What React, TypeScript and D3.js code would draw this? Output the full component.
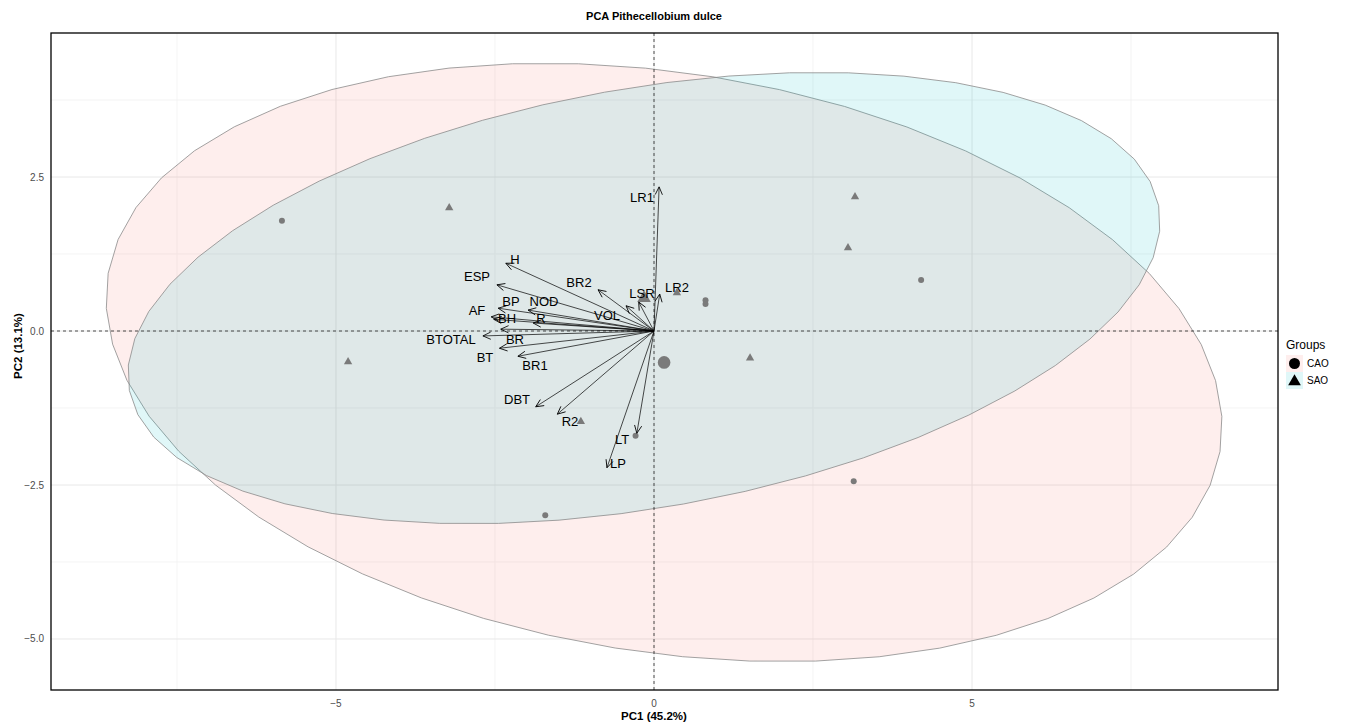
import React from "react";
import * as d3 from "d3";

// ---- data ----
const groups = ["CAO", "SAO"];
const groupFill = ["#F8766D", "#00BFC4"];

// individuals (PC1, PC2)
const caoX = [-5.85, 4.2, 0.81, 0.81, 3.14, -1.71, -0.29];
const caoY = [1.79, 0.83, 0.5, 0.44, -2.44, -2.99, -1.7];
const saoX = [-3.22, 3.16, 3.05, -4.81, 1.51, -1.15, 0.36];
const saoY = [2.0, 2.18, 1.35, -0.5, -0.44, -1.47, 0.62];

// concentration ellipses: semi-axes (data units), rotation (deg, data space)
const ellipseA = [8.86, 8.23];
const ellipseB = [4.7, 3.4];
const ellipseAngle = [-9.4, 10.5];

// variable loadings (arrow tips)
const varNames = ["H", "ESP", "BR2", "BP", "NOD", "AF", "BH", "R", "VOL", "LSR", "LR2", "LR1", "BTOTAL", "BR", "BT", "BR1", "DBT", "R2", "LT", "LP"];
const varX = [-2.33, -2.47, -0.88, -2.45, -1.98, -2.56, -2.52, -1.9, -0.44, -0.24, 0.09, 0.08, -2.69, -2.41, -2.43, -2.14, -1.86, -1.52, -0.27, -0.74];
const varY = [1.1, 0.75, 0.67, 0.37, 0.34, 0.23, 0.19, 0.13, 0.41, 0.47, 0.6, 2.34, -0.08, 0.03, -0.28, -0.41, -1.23, -1.35, -1.66, -2.22];
// repelled label positions
const labX = [-2.186, -2.783, -1.179, -2.248, -1.73, -2.783, -2.311, -1.777, -0.739, -0.189, 0.362, -0.189, -3.192, -2.186, -2.657, -1.871, -2.154, -1.321, -0.503, -0.566];
const labY = [1.153, 0.877, 0.795, 0.487, 0.471, 0.325, 0.195, 0.195, 0.244, 0.617, 0.714, 2.175, -0.13, -0.13, -0.422, -0.568, -1.104, -1.477, -1.769, -2.143];

const xMajor = [-5, 0, 5];
const xMinor = [-7.5, -2.5, 2.5, 7.5];
const yMajor = [-5, -2.5, 0, 2.5];
const yMinor = [-3.75, -1.25, 1.25, 3.75];

const W = 1346;
const H = 724;
const FONT = "'Liberation Sans', Arial, Helvetica, sans-serif";

export default function App() {
  const x = d3.scaleLinear().domain([-9.481, 9.811]).range([51, 1278]);
  const y = d3.scaleLinear().domain([-5.828, 4.838]).range([690, 33]);

  const mean = (a: number[]) => d3.mean(a) as number;
  const groupXs = [caoX, saoX];
  const groupYs = [caoY, saoY];
  const centers = groups.map((_, i) => [mean(groupXs[i]), mean(groupYs[i])]);

  const line = d3.line<[number, number]>().x((d) => x(d[0])).y((d) => y(d[1])).curve(d3.curveLinearClosed);

  const ellipsePath = (i: number) => {
    const [cx, cy] = centers[i];
    const th = (ellipseAngle[i] * Math.PI) / 180;
    const a = ellipseA[i];
    const b = ellipseB[i];
    const pts: [number, number][] = d3.range(52).map((k) => {
      const t = (k / 52) * 2 * Math.PI;
      return [
        cx + a * Math.cos(th) * Math.cos(t) - b * Math.sin(th) * Math.sin(t),
        cy + a * Math.sin(th) * Math.cos(t) + b * Math.cos(th) * Math.sin(t),
      ];
    });
    return line(pts) as string;
  };

  const tri = d3.symbol().type(d3.symbolTriangle);
  const triSmall = tri.size(30)() as string;
  const triBig = tri.size(80)() as string;
  const triLegend = tri.size(70)() as string;

  const ptColor = "#7a7a7a";

  return (
    <svg width={W} height={H} style={{ position: "absolute", left: 0, top: 0, background: "#fff" }} fontFamily={FONT}>
      <defs>
        <marker id="ah" markerUnits="userSpaceOnUse" markerWidth="12" markerHeight="12" viewBox="-8 -5 10 10" refX="0" refY="0" orient="auto">
          <path d="M-6.5,-3 L0,0 L-6.5,3" fill="none" stroke="#000" strokeWidth="0.7" />
        </marker>
        <clipPath id="panel">
          <rect x={51} y={33} width={1227} height={657} />
        </clipPath>
      </defs>

      {/* title */}
      <text x={654} y={16} textAnchor="middle" dominantBaseline="central" fontWeight="bold" fontSize="11px" fill="#000">
        PCA Pithecellobium dulce
      </text>

      {/* grid */}
      <g>
        {xMinor.map((v) => (
          <line key={"xm" + v} x1={x(v)} x2={x(v)} y1={33} y2={690} stroke="#efefef" strokeWidth={0.7} />
        ))}
        {yMinor.map((v) => (
          <line key={"ym" + v} y1={y(v)} y2={y(v)} x1={51} x2={1278} stroke="#efefef" strokeWidth={0.7} />
        ))}
        {xMajor.map((v) => (
          <line key={"xM" + v} x1={x(v)} x2={x(v)} y1={33} y2={690} stroke="#e8e8e8" strokeWidth={1} />
        ))}
        {yMajor.map((v) => (
          <line key={"yM" + v} y1={y(v)} y2={y(v)} x1={51} x2={1278} stroke="#e8e8e8" strokeWidth={1} />
        ))}
      </g>

      <g clipPath="url(#panel)">
        {/* ellipses */}
        {groups.map((g, i) => (
          <path key={g} d={ellipsePath(i)} fill={groupFill[i]} fillOpacity={0.12} stroke="#8a8a8a" strokeWidth={0.8} />
        ))}

        {/* reference lines */}
        <line x1={x(0)} x2={x(0)} y1={33} y2={690} stroke="#222" strokeWidth={0.8} strokeDasharray="3,3" />
        <line y1={y(0)} y2={y(0)} x1={51} x2={1278} stroke="#222" strokeWidth={0.8} strokeDasharray="3,3" />

        {/* individuals */}
        {caoX.map((v, i) => (
          <circle key={"c" + i} cx={x(v)} cy={y(caoY[i])} r={3} fill={ptColor} />
        ))}
        {saoX.map((v, i) => (
          <path key={"s" + i} d={triSmall} transform={`translate(${x(v)},${y(saoY[i])})`} fill={ptColor} />
        ))}
        {/* group centroids */}
        <circle cx={x(centers[0][0])} cy={y(centers[0][1])} r={6.3} fill={ptColor} />
        <path d={triBig} transform={`translate(${x(centers[1][0])},${y(centers[1][1])})`} fill={ptColor} />

        {/* variable arrows */}
        {varNames.map((n, i) => (
          <line key={"a" + n} x1={x(0)} y1={y(0)} x2={x(varX[i])} y2={y(varY[i])} stroke="#000" strokeWidth={0.7} markerEnd="url(#ah)" />
        ))}
        {varNames.map((n, i) => (
          <text key={"l" + n} x={x(labX[i])} y={y(labY[i])} textAnchor="middle" dominantBaseline="central" fontSize="13px" fill="#000">
            {n}
          </text>
        ))}
      </g>

      {/* panel border */}
      <rect x={51} y={33} width={1227} height={657} fill="none" stroke="#000" strokeWidth={1.3} />

      {/* tick labels */}
      {xMajor.map((v) => (
        <text key={"tx" + v} x={x(v)} y={703} textAnchor="middle" dominantBaseline="central" fontSize="10px" fill="#4d4d4d">
          {d3.format("")(v)}
        </text>
      ))}
      {yMajor.map((v) => (
        <text key={"ty" + v} x={44} y={y(v)} textAnchor="end" dominantBaseline="central" fontSize="10px" fill="#4d4d4d">
          {d3.format(".1f")(v)}
        </text>
      ))}

      {/* axis titles */}
      <text x={654} y={716} textAnchor="middle" dominantBaseline="central" fontWeight="bold" fontSize="11.5px" fill="#000">
        PC1 (45.2%)
      </text>
      <text transform={`translate(18,346) rotate(-90)`} textAnchor="middle" dominantBaseline="central" fontWeight="bold" fontSize="11.5px" fill="#000">
        PC2 (13.1%)
      </text>

      {/* legend */}
      <g>
        <text x={1286} y={345} dominantBaseline="central" fontSize="12px" fill="#000">
          Groups
        </text>
        {groups.map((g, i) => (
          <g key={"lg" + g} transform={`translate(1286,${355 + i * 17})`}>
            <rect x={0} y={0} width={17} height={17} fill={groupFill[i]} fillOpacity={0.12} />
            {i === 0 ? (
              <circle cx={8.5} cy={8.5} r={5.5} fill="#000" />
            ) : (
              <path d={triLegend} transform="translate(8.5,9.5)" fill="#000" />
            )}
            <text x={21} y={8.5} dominantBaseline="central" fontSize="10px" fill="#000">
              {g}
            </text>
          </g>
        ))}
      </g>
    </svg>
  );
}
